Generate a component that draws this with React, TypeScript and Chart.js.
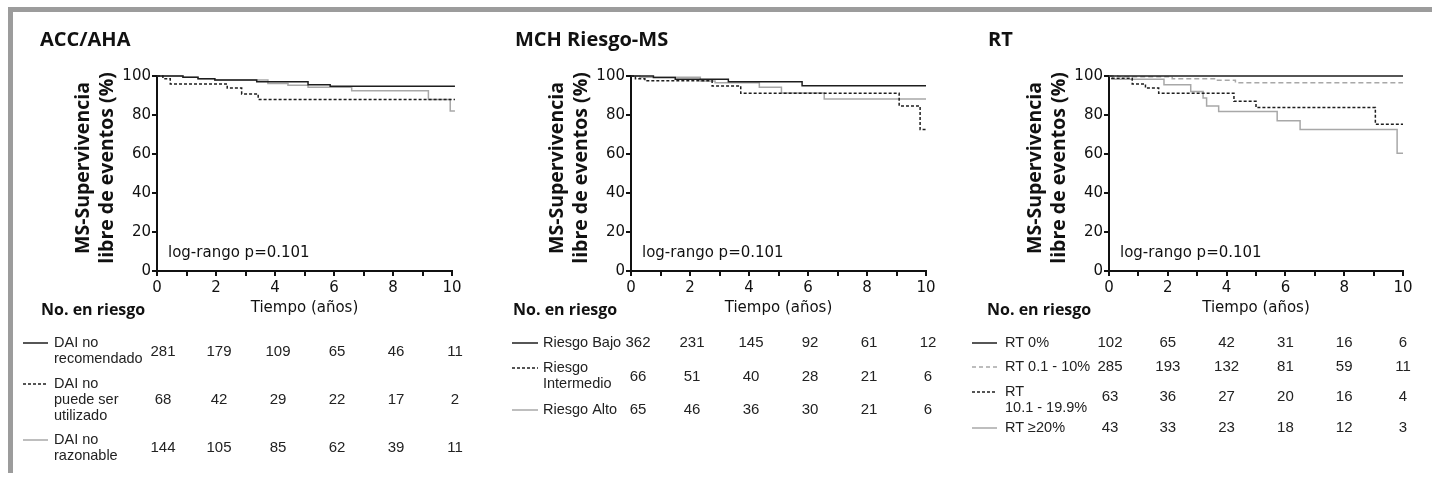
import React, { useEffect, useRef } from 'react';
import { Chart, registerables } from 'chart.js';

Chart.register(...registerables);

// ---------------- DATA ----------------
const timeTicks = [0, 2, 4, 6, 8, 10];

// Panel 1: ACC/AHA
const accTitle = 'ACC/AHA';
const accNoRecT = [0, 0.88, 1.39, 1.96, 3.38, 5.12, 5.87, 10.1];
const accNoRecS = [100, 99.3, 98.6, 97.9, 97.1, 95.5, 94.8, 94.8];
const accNoPuedeT = [0, 0.2, 0.45, 2.38, 2.87, 3.43, 10.1];
const accNoPuedeS = [100, 98.6, 95.9, 93.8, 90.8, 88.0, 88.0];
const accNoRazT = [0, 0.88, 1.39, 1.96, 3.76, 4.44, 5.12, 6.6, 9.2, 9.94, 10.1];
const accNoRazS = [100, 99.3, 98.6, 97.9, 96.2, 95.2, 94.2, 92.5, 88.0, 82.0, 82.0];
const accLabels = [['DAI no', 'recomendado'], ['DAI no', 'puede ser', 'utilizado'], ['DAI no', 'razonable']];
const accNoRec = [281, 179, 109, 65, 46, 11];
const accNoPuede = [68, 42, 29, 22, 17, 2];
const accNoRaz = [144, 105, 85, 62, 39, 11];

// Panel 2: MCH Riesgo-MS
const mchTitle = 'MCH Riesgo-MS';
const mchBajoT = [0, 0.76, 1.5, 3.3, 5.8, 10];
const mchBajoS = [100, 99.2, 98.3, 97.1, 95.0, 95.0];
const mchInterT = [0, 0.15, 0.47, 2.75, 3.72, 9.09, 9.8, 10];
const mchInterS = [100, 98.6, 97.6, 94.9, 91.1, 84.6, 72.6, 72.6];
const mchAltoT = [0, 0.3, 2.35, 2.85, 4.35, 5.1, 6.55, 10];
const mchAltoS = [100, 99.3, 97.5, 96.6, 94.2, 91.3, 88.2, 88.2];
const mchLabels = [['Riesgo Bajo'], ['Riesgo', 'Intermedio'], ['Riesgo Alto']];
const mchBajo = [362, 231, 145, 92, 61, 12];
const mchInter = [66, 51, 40, 28, 21, 6];
const mchAlto = [65, 46, 36, 30, 21, 6];

// Panel 3: RT
const rtTitle = 'RT';
const rt0T = [0, 10];
const rt0S = [100, 100];
const rt1T = [0, 0.3, 2.15, 3.62, 4.3, 10];
const rt1S = [100, 99.6, 98.6, 97.8, 96.6, 96.6];
const rt2T = [0, 0.1, 0.79, 1.24, 1.69, 4.25, 5.0, 9.06, 10];
const rt2S = [100, 98.8, 95.9, 93.8, 91.1, 87.0, 83.8, 75.3, 75.3];
const rt3T = [0, 0.1, 1.87, 2.78, 3.2, 3.32, 3.73, 5.72, 6.5, 9.8, 10];
const rt3S = [100, 98.3, 95.5, 92.1, 88.7, 84.6, 81.8, 77.1, 72.6, 60.4, 60.4];
const rtLabels = [['RT 0%'], ['RT 0.1 - 10%'], ['RT', '10.1 - 19.9%'], ['RT ≥20%']];
const rt0 = [102, 65, 42, 31, 16, 6];
const rt1 = [285, 193, 132, 81, 59, 11];
const rt2 = [63, 36, 27, 20, 16, 4];
const rt3 = [43, 33, 23, 18, 12, 3];

const yTitle = ['MS-Supervivencia', 'libre de eventos (%)'];
const logRank = 'log-rango p=0.101';
const xTitle = 'Tiempo (años)';
const riskTitle = 'No. en riesgo';

// ---------------- STYLES / LAYOUT ----------------
const W = 1432;
const H = 478;
const TOP = 76;
const BOTTOM = 271;
const YW = 50;
const XH = 30;
const BLACK = '#1e1e1e';
const GRAY = '#a8a8a8';
const TEXT = '#111';
const SOLID: number[] = [];
const DOTTED = [3, 2];
const DASHED = [5, 3];

type Series = { t: number[]; s: number[]; color: string; dash: number[] };
type Row = { label: string[]; nums: number[]; color: string; dash: number[]; labelY: number; numY: number };
type Panel = {
  title: string;
  titleX: number;
  axisLeft: number;
  axisRight: number;
  legendX0: number;
  legendX1: number;
  labelX: number;
  riskX: number;
  firstOffset: number;
  colOffset: number;
  series: Series[];
  rows: Row[];
};

const panels: Panel[] = [
  {
    title: accTitle, titleX: 40, axisLeft: 157, axisRight: 452,
    legendX0: 23, legendX1: 48, labelX: 54, riskX: 41, firstOffset: 6, colOffset: 3,
    series: [
      { t: accNoRecT, s: accNoRecS, color: BLACK, dash: SOLID },
      { t: accNoPuedeT, s: accNoPuedeS, color: BLACK, dash: DOTTED },
      { t: accNoRazT, s: accNoRazS, color: GRAY, dash: SOLID },
    ],
    rows: [
      { label: accLabels[0], nums: accNoRec, color: BLACK, dash: SOLID, labelY: 343, numY: 352 },
      { label: accLabels[1], nums: accNoPuede, color: BLACK, dash: DOTTED, labelY: 384, numY: 400 },
      { label: accLabels[2], nums: accNoRaz, color: GRAY, dash: SOLID, labelY: 440, numY: 448 },
    ],
  },
  {
    title: mchTitle, titleX: 515, axisLeft: 631, axisRight: 926,
    legendX0: 512, legendX1: 538, labelX: 543, riskX: 513, firstOffset: 7, colOffset: 2,
    series: [
      { t: mchBajoT, s: mchBajoS, color: BLACK, dash: SOLID },
      { t: mchInterT, s: mchInterS, color: BLACK, dash: DOTTED },
      { t: mchAltoT, s: mchAltoS, color: GRAY, dash: SOLID },
    ],
    rows: [
      { label: mchLabels[0], nums: mchBajo, color: BLACK, dash: SOLID, labelY: 343, numY: 343 },
      { label: mchLabels[1], nums: mchInter, color: BLACK, dash: DOTTED, labelY: 368, numY: 377 },
      { label: mchLabels[2], nums: mchAlto, color: GRAY, dash: SOLID, labelY: 410, numY: 410 },
    ],
  },
  {
    title: rtTitle, titleX: 988, axisLeft: 1109, axisRight: 1403,
    legendX0: 972, legendX1: 997, labelX: 1005, riskX: 987, firstOffset: 1, colOffset: 0,
    series: [
      { t: rt0T, s: rt0S, color: BLACK, dash: SOLID },
      { t: rt1T, s: rt1S, color: GRAY, dash: DASHED },
      { t: rt2T, s: rt2S, color: BLACK, dash: DOTTED },
      { t: rt3T, s: rt3S, color: GRAY, dash: SOLID },
    ],
    rows: [
      { label: rtLabels[0], nums: rt0, color: BLACK, dash: SOLID, labelY: 343, numY: 343 },
      { label: rtLabels[1], nums: rt1, color: GRAY, dash: [4, 3], labelY: 367, numY: 367 },
      { label: rtLabels[2], nums: rt2, color: BLACK, dash: DOTTED, labelY: 392, numY: 397 },
      { label: rtLabels[3], nums: rt3, color: GRAY, dash: SOLID, labelY: 428, numY: 428 },
    ],
  },
];

function textPlugin(p: Panel) {
  return {
    id: 'kmText',
    afterDraw(chart: any) {
      const ctx: CanvasRenderingContext2D = chart.ctx;
      const xs = chart.scales.x;
      ctx.save();
      ctx.fillStyle = TEXT;
      ctx.textBaseline = 'middle';

      // panel title
      ctx.font = 'bold 20px "Open Sans"';
      ctx.textAlign = 'left';
      ctx.fillText(p.title, p.titleX, 40);

      // y-axis title (two lines, rotated)
      ctx.font = 'bold 19.5px "Open Sans"';
      ctx.textAlign = 'center';
      const yc = 168;
      [[yTitle[0], p.axisLeft - 74], [yTitle[1], p.axisLeft - 50]].forEach(([txt, x]) => {
        ctx.save();
        ctx.translate(x as number, yc);
        ctx.rotate(-Math.PI / 2);
        ctx.fillText(txt as string, 0, 0);
        ctx.restore();
      });

      // log-rank
      ctx.font = '15px "DejaVu Sans"';
      ctx.textAlign = 'left';
      ctx.fillText(logRank, p.axisLeft + 11, 253);

      // x title
      ctx.textAlign = 'center';
      ctx.fillText(xTitle, (xs.left + xs.right) / 2, 308);

      // risk table header
      ctx.font = 'bold 16px "Open Sans"';
      ctx.textAlign = 'left';
      ctx.fillText(riskTitle, p.riskX, 310);

      // rows
      p.rows.forEach((r) => {
        ctx.save();
        ctx.strokeStyle = r.color;
        ctx.lineWidth = 1.5;
        ctx.setLineDash(r.dash);
        ctx.beginPath();
        ctx.moveTo(p.legendX0, r.labelY);
        ctx.lineTo(p.legendX1, r.labelY);
        ctx.stroke();
        ctx.restore();

        ctx.fillStyle = '#222';
        ctx.font = '14.5px "Liberation Sans"';
        ctx.textAlign = 'left';
        r.label.forEach((ln, i) => ctx.fillText(ln, p.labelX, r.labelY + i * 16));

        ctx.font = '15px "Liberation Sans"';
        ctx.textAlign = 'center';
        r.nums.forEach((n, j) => {
          const x = xs.getPixelForValue(timeTicks[j]) + (j === 0 ? p.firstOffset : p.colOffset);
          ctx.fillText(String(n), x, r.numY);
        });
      });
      ctx.restore();
    },
  };
}

function makeConfig(p: Panel): any {
  return {
    type: 'line',
    data: {
      datasets: p.series.map((s) => ({
        data: s.t.map((t, i) => ({ x: t, y: s.s[i] })),
        borderColor: s.color,
        borderDash: s.dash,
        borderWidth: 1.5,
        pointRadius: 0,
        stepped: 'before',
        fill: false,
        clip: false,
      })),
    },
    options: {
      responsive: false,
      animation: false,
      events: [],
      layout: {
        padding: { left: p.axisLeft - YW, right: W - p.axisRight, top: TOP, bottom: H - BOTTOM - XH },
      },
      plugins: { legend: { display: false }, tooltip: { enabled: false }, title: { display: false } },
      scales: {
        x: {
          type: 'linear',
          min: 0,
          max: 10,
          afterFit: (s: any) => { s.height = XH; },
          ticks: {
            stepSize: 1,
            autoSkip: false,
            maxRotation: 0,
            padding: 3,
            color: TEXT,
            font: { family: 'DejaVu Sans', size: 15 },
            callback: (v: number) => (v % 2 === 0 ? String(v) : ''),
          },
          grid: { drawOnChartArea: false, tickLength: 5, color: TEXT, lineWidth: 2 },
          border: { display: true, color: TEXT, width: 2 },
        },
        y: {
          type: 'linear',
          min: 0,
          max: 100,
          afterFit: (s: any) => { s.width = YW; },
          ticks: {
            stepSize: 20,
            padding: 1,
            color: TEXT,
            font: { family: 'DejaVu Sans', size: 15 },
          },
          grid: { drawOnChartArea: false, tickLength: 5, color: TEXT, lineWidth: 2 },
          border: { display: true, color: TEXT, width: 2 },
        },
      },
    },
    plugins: [textPlugin(p)],
  };
}

function PanelChart({ p }: { p: Panel }) {
  const ref = useRef<HTMLCanvasElement>(null);
  useEffect(() => {
    const chart = new Chart(ref.current as HTMLCanvasElement, makeConfig(p));
    return () => chart.destroy();
  }, [p]);
  return (
    <canvas
      ref={ref}
      width={W}
      height={H}
      style={{ position: 'absolute', left: 0, top: 0, width: W, height: H }}
    />
  );
}

export default function App() {
  return (
    <div style={{ position: 'absolute', left: 0, top: 0, width: W, height: H, background: '#fff', overflow: 'hidden' }}>
      <div style={{ position: 'absolute', left: 8, top: 7, width: W - 8, height: 5, background: '#9c9c9c' }} />
      <div style={{ position: 'absolute', left: 8, top: 7, width: 5, height: 466, background: '#9c9c9c' }} />
      {panels.map((p, i) => (
        <PanelChart key={i} p={p} />
      ))}
    </div>
  );
}
